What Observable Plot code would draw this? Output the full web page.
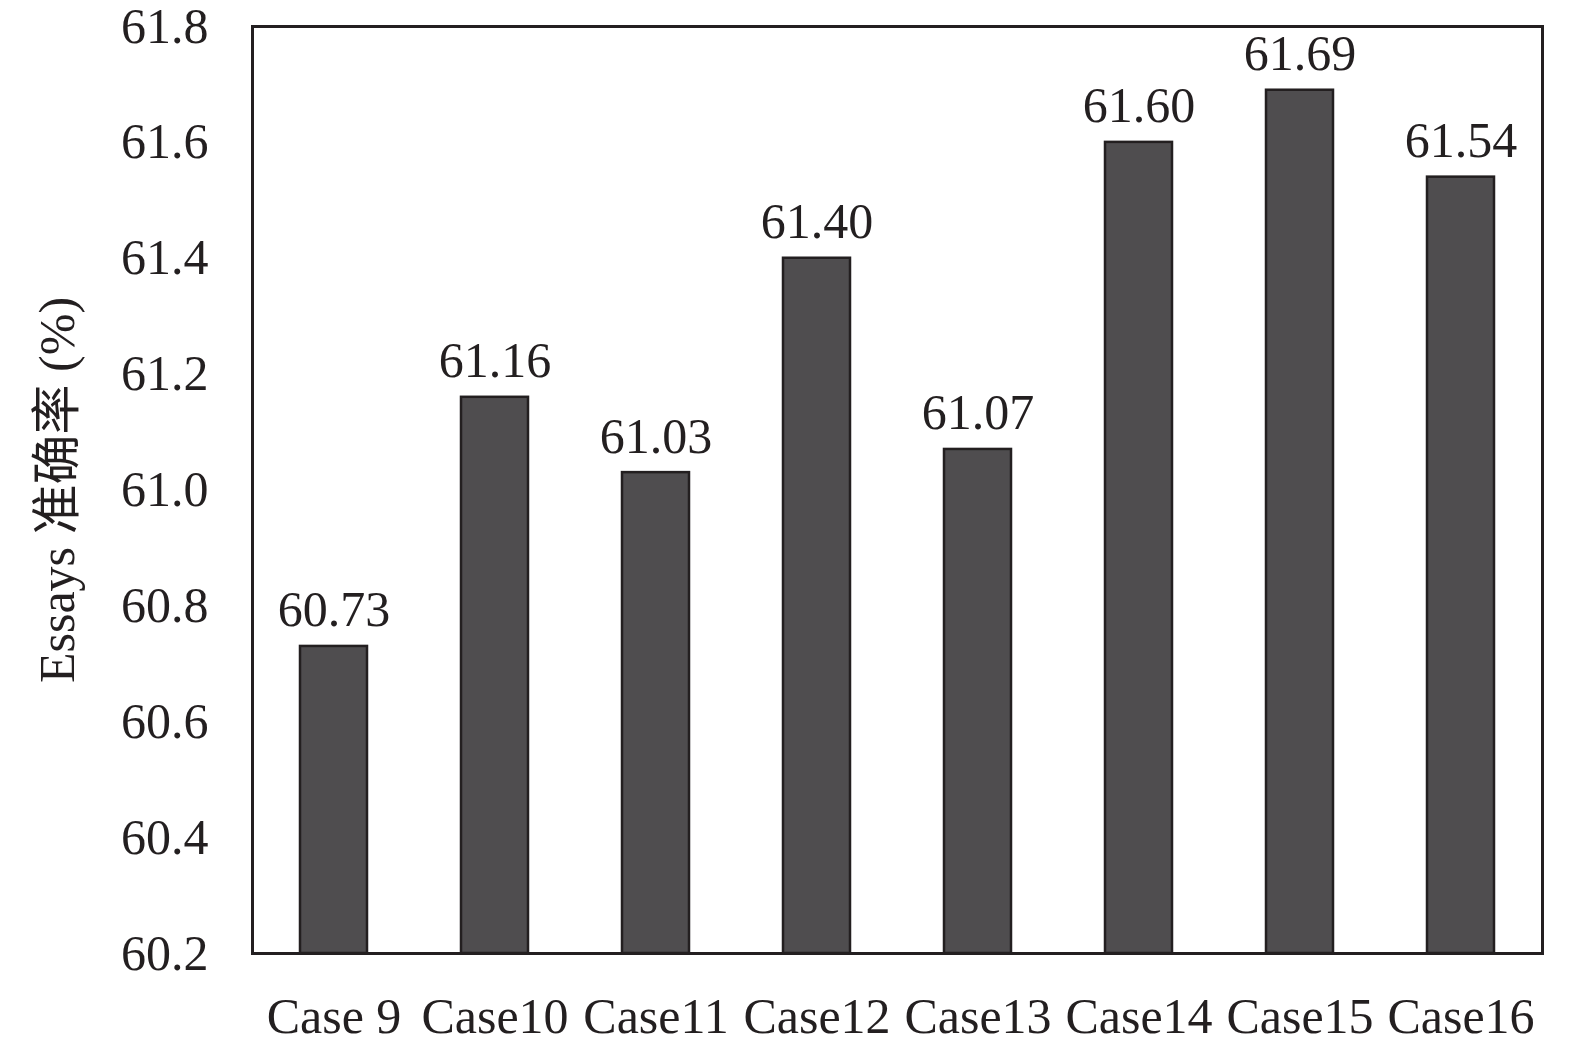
<!DOCTYPE html>
<html>
<head>
<meta charset="utf-8">
<script src="https://cdn.jsdelivr.net/npm/d3@7"></script>
<script src="https://cdn.jsdelivr.net/npm/@observablehq/plot@0.6"></script>
<style>
  html, body { margin: 0; padding: 0; background: #fff; }
</style>
</head>
<body>
<div id="chart"></div>
<script>
const categories = ["Case 9", "Case10", "Case11", "Case12", "Case13", "Case14", "Case15", "Case16"];
const values = [60.73, 61.16, 61.03, 61.40, 61.07, 61.60, 61.69, 61.54];
const yTicks = [60.2, 60.4, 60.6, 60.8, 61.0, 61.2, 61.4, 61.6, 61.8];
const yLabel = "Essays 准确率 (%)";

const yDomain = [yTicks[0], yTicks[yTicks.length - 1]];
const data = categories.map((c, i) => ({category: c, value: values[i]}));
const ink = "#231f20";

const chart = Plot.plot({
  width: 1575,
  height: 1050,
  marginLeft: 252,
  marginRight: 33,
  marginTop: 26,
  marginBottom: 97,
  style: {
    fontFamily: "'Liberation Serif', 'Noto Sans CJK SC', serif",
    fontSize: "50px",
    color: ink,
    background: "#fff",
    overflow: "visible"
  },
  x: {domain: categories, paddingInner: 0.584, paddingOuter: 0.292, align: 0.5, label: null},
  y: {domain: yDomain, label: null},
  marks: [
    Plot.axisX({tickSize: 0, tickPadding: 44, fontSize: 50, label: null}),
    Plot.axisY({
      ticks: yTicks, tickSize: 0, tickPadding: 44, fontSize: 50,
      tickFormat: d3.format(".1f"),
      label: yLabel, labelAnchor: "center", labelArrow: "none", labelOffset: 214
    }),
    Plot.barY(data, {
      x: "category", y1: () => yDomain[0], y2: "value",
      fill: "#4f4d4f", stroke: ink, strokeWidth: 2.5
    }),
    Plot.text(data, {
      x: "category", y: "value", text: d => d3.format(".2f")(d.value),
      lineAnchor: "bottom", dy: -20, fontSize: 50, fill: ink
    }),
    Plot.frame({stroke: ink, strokeWidth: 3})
  ]
});
document.getElementById("chart").appendChild(chart);
</script>
</body>
</html>
